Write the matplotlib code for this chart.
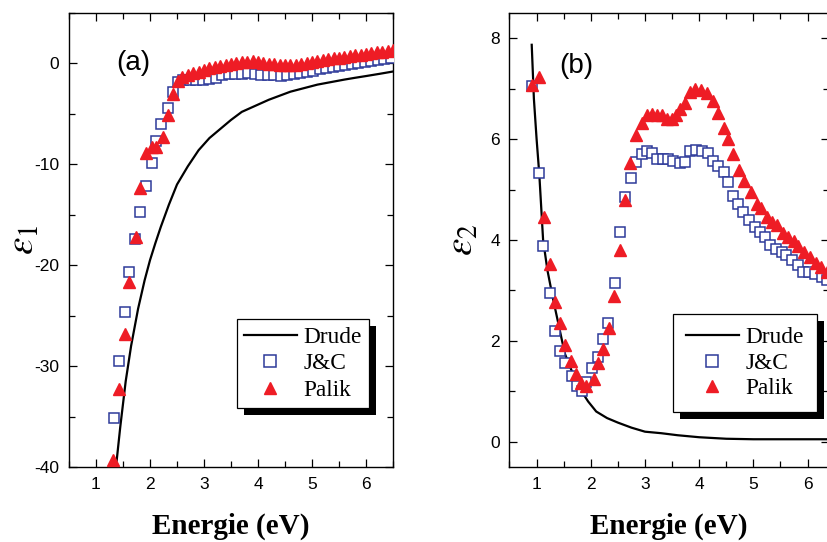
import matplotlib.pyplot as plt
from matplotlib.patches import Rectangle
from matplotlib.transforms import IdentityTransform
from matplotlib.ticker import MultipleLocator

plt.rcParams['font.family'] = ['Liberation Sans', 'DejaVu Sans']
plt.rcParams['axes.unicode_minus'] = False
plt.rcParams['mathtext.fontset'] = 'stix'

# (a) real part epsilon_1
drude1_x = [1.36, 1.45, 1.55, 1.65, 1.78, 1.9, 2.0, 2.1, 2.2, 2.35, 2.5, 2.7, 2.9, 3.1,
            3.3, 3.5, 3.7, 3.95, 4.2, 4.4, 4.6, 4.85, 5.1, 5.35, 5.6, 5.8, 6.0, 6.25,
            6.5]
drude1_y = [-40.5, -36, -31.5, -28, -24.3, -21.5, -19.5, -17.8, -16.2, -14, -12, -10.2,
            -8.6, -7.4, -6.5, -5.6, -4.8, -4.2, -3.6, -3.2, -2.8, -2.45, -2.1, -1.85,
            -1.6, -1.42, -1.25, -1.03, -0.8]

jc1_x = [1.34, 1.43, 1.53, 1.61, 1.72, 1.82, 1.92, 2.03, 2.12, 2.21, 2.33, 2.42, 2.52,
         2.62, 2.74, 2.86, 2.98, 3.1, 3.22, 3.34, 3.46, 3.58, 3.7, 3.82, 3.94, 4.06,
         4.18, 4.3, 4.42, 4.54, 4.66, 4.78, 4.9, 5.02, 5.14, 5.26, 5.38, 5.5, 5.62,
         5.74, 5.86, 5.98, 6.1, 6.22, 6.34, 6.46]
jc1_y = [-35.1, -29.5, -24.6, -20.7, -17.4, -14.7, -12.1, -9.9, -7.7, -6.0, -4.4, -2.8,
         -1.8, -1.6, -1.65, -1.6, -1.6, -1.55, -1.4, -1.1, -1.0, -1.0, -1.0, -0.95,
         -1.0, -1.1, -1.15, -1.15, -1.2, -1.15, -1.05, -0.9, -0.8, -0.7, -0.6, -0.5,
         -0.4, -0.3, -0.2, -0.1, 0.0, 0.1, 0.2, 0.3, 0.4, 0.5]

palik1_x = [1.32, 1.43, 1.53, 1.62, 1.74, 1.82, 1.92, 2.03, 2.12, 2.24, 2.33, 2.42, 2.52,
            2.6, 2.7, 2.8, 2.9, 3.0, 3.1, 3.2, 3.3, 3.4, 3.5, 3.6, 3.7, 3.8, 3.9, 4.0,
            4.1, 4.2, 4.3, 4.4, 4.5, 4.6, 4.7, 4.8, 4.9, 5.0, 5.1, 5.2, 5.3, 5.4, 5.5,
            5.6, 5.7, 5.8, 5.9, 6.0, 6.1, 6.2, 6.3, 6.4, 6.5]
palik1_y = [-39.3, -32.3, -26.8, -21.7, -17.2, -12.3, -8.9, -8.3, -8.3, -7.3, -5.1, -3.0,
            -1.7, -1.3, -1.1, -0.95, -0.8, -0.65, -0.5, -0.4, -0.3, -0.2, -0.1, 0.0,
            0.1, 0.15, 0.2, 0.15, 0.05, -0.05, -0.1, -0.15, -0.2, -0.2, -0.15, -0.05,
            0.05, 0.15, 0.25, 0.35, 0.45, 0.5, 0.55, 0.65, 0.7, 0.8, 0.85, 0.95, 1.0,
            1.1, 1.15, 1.25, 1.3]

# (b) imaginary part epsilon_2
drude2_x = [0.91, 0.95, 1.0, 1.05, 1.12, 1.2, 1.3, 1.4, 1.52, 1.65, 1.8, 1.95, 2.1, 2.3,
            2.5, 2.75, 3.0, 3.3, 3.6, 4.0, 4.5, 5.0, 5.5, 6.0, 6.4]
drude2_y = [7.87, 6.8, 6.0, 5.3, 4.0, 3.4, 2.85, 2.35, 1.75, 1.4, 1.05, 0.8, 0.6, 0.47,
            0.38, 0.28, 0.2, 0.17, 0.13, 0.09, 0.06, 0.05, 0.05, 0.05, 0.05]

jc2_x = [0.92, 1.04, 1.12, 1.25, 1.34, 1.43, 1.52, 1.65, 1.74, 1.83, 1.92, 2.03, 2.14,
         2.23, 2.32, 2.45, 2.54, 2.63, 2.74, 2.83, 2.94, 3.03, 3.12, 3.22, 3.33, 3.43,
         3.52, 3.65, 3.74, 3.83, 3.95, 4.06, 4.17, 4.26, 4.35, 4.45, 4.54, 4.63, 4.72,
         4.81, 4.91, 5.03, 5.12, 5.21, 5.31, 5.42, 5.52, 5.61, 5.71, 5.83, 5.92, 6.03,
         6.14, 6.26, 6.36]
jc2_y = [7.05, 5.32, 3.88, 2.95, 2.2, 1.8, 1.57, 1.3, 1.11, 1.0, 1.18, 1.46, 1.69, 2.04,
         2.36, 3.15, 4.16, 4.85, 5.22, 5.54, 5.7, 5.77, 5.72, 5.6, 5.6, 5.6, 5.56, 5.52,
         5.54, 5.77, 5.79, 5.77, 5.72, 5.57, 5.47, 5.34, 5.14, 4.88, 4.72, 4.55, 4.39,
         4.26, 4.16, 4.06, 3.9, 3.83, 3.76, 3.7, 3.6, 3.5, 3.37, 3.37, 3.32, 3.27, 3.2]

palik2_x = [0.92, 1.05, 1.14, 1.25, 1.34, 1.43, 1.52, 1.63, 1.73, 1.82, 1.92, 2.05, 2.13,
            2.23, 2.34, 2.43, 2.54, 2.63, 2.72, 2.83, 2.94, 3.03, 3.12, 3.22, 3.31, 3.4,
            3.49, 3.58, 3.65, 3.74, 3.83, 3.93, 4.03, 4.14, 4.26, 4.35, 4.45, 4.54, 4.63,
            4.74, 4.83, 4.96, 5.06, 5.14, 5.25, 5.34, 5.43, 5.54, 5.64, 5.74, 5.83, 5.94,
            6.04, 6.15, 6.25, 6.35]
palik2_y = [7.08, 7.23, 4.45, 3.52, 2.78, 2.35, 1.92, 1.61, 1.35, 1.17, 1.11, 1.25, 1.56,
            1.84, 2.25, 2.88, 3.8, 4.8, 5.53, 6.08, 6.32, 6.47, 6.49, 6.47, 6.47, 6.4,
            6.4, 6.47, 6.6, 6.72, 6.93, 7.0, 6.98, 6.92, 6.76, 6.52, 6.23, 6.0, 5.7,
            5.39, 5.16, 4.95, 4.72, 4.64, 4.45, 4.36, 4.29, 4.14, 4.06, 3.99, 3.88, 3.76,
            3.66, 3.55, 3.47, 3.37]

blue = '#2e3a9a'
red = '#ee1c25'

fig = plt.figure(figsize=(8.28, 5.42), dpi=100)
ax1 = fig.add_axes([69 / 828, 75 / 542, 324 / 828, 454 / 542])
ax2 = fig.add_axes([509.5 / 828, 75 / 542, 319.5 / 828, 454 / 542])


def draw_panel(ax, dx, dy, jx, jy, px, py):
    ax.plot(dx, dy, color='black', lw=1.6, label='Drude', zorder=2)
    ax.plot(jx, jy, ls='none', marker='s', ms=7.2, mfc='white', mec=blue, mew=1.1,
            label='J&C', zorder=3)
    ax.plot(px, py, ls='none', marker='^', ms=8, color=red, mec=red, label='Palik',
            zorder=3)


def style_axes(ax, ylim, ymaj, ymin, tag, tag_xy, ylabel, ylabel_x, leg_xy, borderpad,
               spacing):
    ax.xaxis.set_major_locator(MultipleLocator(1))
    ax.xaxis.set_minor_locator(MultipleLocator(0.5))
    ax.yaxis.set_major_locator(MultipleLocator(ymaj))
    ax.yaxis.set_minor_locator(MultipleLocator(ymin))
    ax.set_ylim(*ylim)
    ax.tick_params(which='both', direction='in', top=True, right=True, width=0.9,
                   labelsize=12.5, pad=7)
    ax.tick_params(which='major', length=5.5)
    ax.tick_params(which='minor', length=4)
    for s in ax.spines.values():
        s.set_linewidth(1.0)
    ax.set_xlabel('Energie (eV)', family='Liberation Serif', weight='bold', fontsize=21)
    ax.xaxis.set_label_coords(0.5, -0.1)
    ax.set_ylabel(ylabel, fontsize=28)
    ax.yaxis.set_label_coords(ylabel_x, 0.5)
    ax.text(tag_xy[0], tag_xy[1], tag, fontsize=20, ha='center', va='center')
    leg = ax.legend(loc='upper left', bbox_to_anchor=leg_xy, borderaxespad=0,
                    prop={'family': 'Liberation Serif', 'size': 16.8}, fancybox=False,
                    edgecolor='black', framealpha=1, handlelength=2.25,
                    handletextpad=0.3, labelspacing=spacing, borderpad=borderpad,
                    numpoints=1, markerscale=1.15)
    leg.get_frame().set_linewidth(0.9)
    return leg


draw_panel(ax1, drude1_x, drude1_y, jc1_x, jc1_y, palik1_x, palik1_y)
ax1.set_xlim(0.5, 6.5)
leg1 = style_axes(ax1, (-40, 5), 10, 5, '(a)', (1.69, 0.0), r'$\varepsilon_1$', -0.085,
                  (0.519, 0.325), 0.3, 0.22)

draw_panel(ax2, drude2_x, drude2_y, jc2_x, jc2_y, palik2_x, palik2_y)
ax2.set_xlim(0.5, 6.395)
leg2 = style_axes(ax2, (-0.5, 8.5), 2, 1, '(b)', (1.73, 7.45), r'$\varepsilon_2$', -0.09,
                  (0.513, 0.337), 0.55, 0.18)

# black drop shadow behind each legend box
fig.canvas.draw()
for ax, leg in ((ax1, leg1), (ax2, leg2)):
    bb = leg.get_frame().get_window_extent()
    shadow = Rectangle((bb.x0 + 7, bb.y0 - 7), bb.width, bb.height, facecolor='black',
                       edgecolor='none', transform=IdentityTransform(), zorder=4.9,
                       clip_on=False)
    ax.add_artist(shadow)

fig.savefig('out.png', dpi=100)
